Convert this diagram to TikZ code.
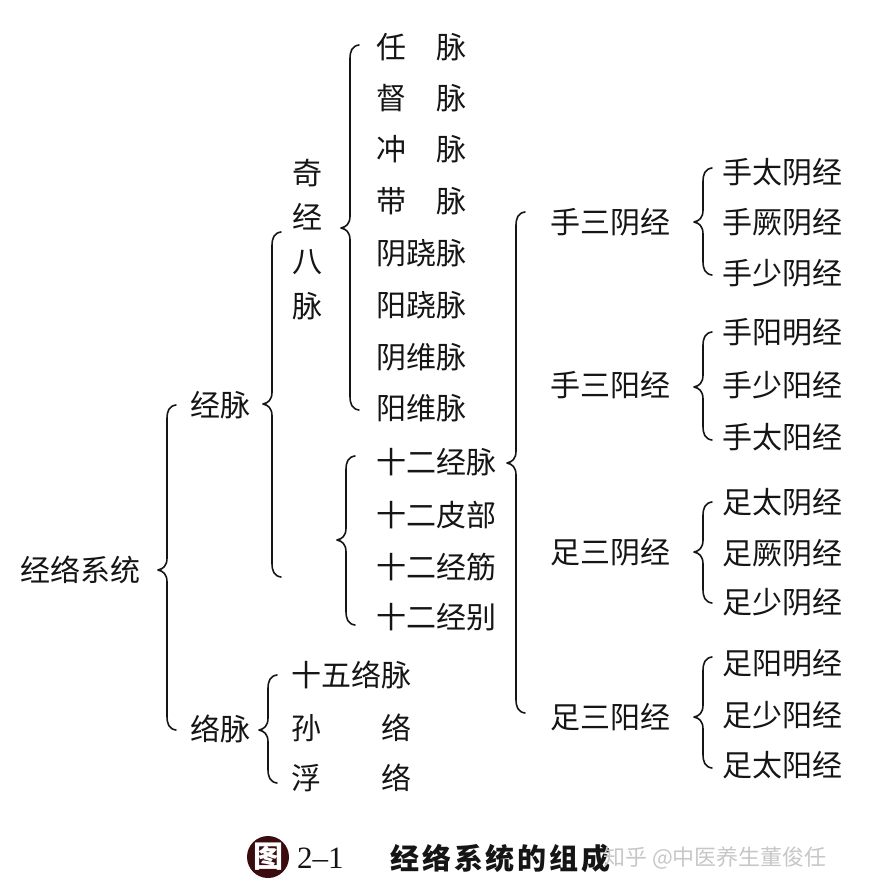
\documentclass[tikz,border=0pt]{standalone}
\usepackage{fontspec}
\newfontfamily\cjk{Noto Sans CJK SC}
\newfontfamily\capcjk[LetterSpace=10]{Noto Sans CJK SC}
\newfontfamily\capser{Liberation Serif}
\definecolor{ink}{HTML}{151515}
\definecolor{maroon}{HTML}{3A0C10}
\newcommand\curlybr[4]{%
 \draw[brc] ({#1+9},{#2}) .. controls ({#1+2},{#2+1}) and ({#1},{#2+6}) .. ({#1},{#2+14})
  -- ({#1},{#3-12}) .. controls ({#1},{#3-4}) and ({#1-4},{#3-1}) .. ({#1-9},{#3})
  .. controls ({#1-4},{#3+1}) and ({#1},{#3+4}) .. ({#1},{#3+12})
  -- ({#1},{#4-14}) .. controls ({#1},{#4-6}) and ({#1+2},{#4-1}) .. ({#1+9},{#4});}
\begin{document}
\begin{tikzpicture}[x=1pt,y=-1pt,
  lbl/.style={anchor=west, inner sep=0pt, font=\cjk\fontsize{30}{32}\selectfont, text=ink},
  vch/.style={lbl, anchor=center},
  brc/.style={draw=ink, line width=1.6pt, line cap=round, line join=round}]
\useasboundingbox (0,0) rectangle (886,895);
\fill[white] (0,0) rectangle (886,895);

% level 0-1
\node[lbl] (root) at (20,570) {经络系统};
\node[lbl] (jm) at (190,405) {经脉};
\node[lbl] (lm) at (190,729) {络脉};

% 奇经八脉
\node[vch] (q1) at (307,173) {奇};
\node[vch] (q2) at (307,217) {经};
\node[vch] (q3) at (307,262) {八};
\node[vch] (q4) at (307,306) {脉};

% eight extraordinary vessels
\node[lbl] (r1) at (376,47)  {任\hspace{1em}脉};
\node[lbl] (r2) at (376,98)  {督\hspace{1em}脉};
\node[lbl] (r3) at (376,149) {冲\hspace{1em}脉};
\node[lbl] (r4) at (376,201) {带\hspace{1em}脉};
\node[lbl] (r5) at (376,253) {阴跷脉};
\node[lbl] (r6) at (376,305) {阳跷脉};
\node[lbl] (r7) at (376,357) {阴维脉};
\node[lbl] (r8) at (376,408) {阳维脉};

% twelve
\node[lbl] (s1) at (376,462) {十二经脉};
\node[lbl] (s2) at (376,515) {十二皮部};
\node[lbl] (s3) at (376,567) {十二经筋};
\node[lbl] (s4) at (376,617) {十二经别};

% collaterals
\node[lbl] (l1) at (291,675) {十五络脉};
\node[lbl] (l2) at (291,728) {孙\hspace{2em}络};
\node[lbl] (l3) at (291,778) {浮\hspace{2em}络};

% middle
\node[lbl] (m1) at (550,222) {手三阴经};
\node[lbl] (m2) at (550,385) {手三阳经};
\node[lbl] (m3) at (550,552) {足三阴经};
\node[lbl] (m4) at (550,717) {足三阳经};

% leaves
\node[lbl] (a1)  at (722,172) {手太阴经};
\node[lbl] (a2)  at (722,222) {手厥阴经};
\node[lbl] (a3)  at (722,273) {手少阴经};
\node[lbl] (a4)  at (722,332) {手阳明经};
\node[lbl] (a5)  at (722,385) {手少阳经};
\node[lbl] (a6)  at (722,437) {手太阳经};
\node[lbl] (a7)  at (722,502) {足太阴经};
\node[lbl] (a8)  at (722,553) {足厥阴经};
\node[lbl] (a9)  at (722,602) {足少阴经};
\node[lbl] (a10) at (722,663) {足阳明经};
\node[lbl] (a11) at (722,715) {足少阳经};
\node[lbl] (a12) at (722,765) {足太阳经};

% braces
\curlybr{167}{405}{570}{730}
\curlybr{272}{232}{404}{577}
\curlybr{350}{45}{228}{410}
\curlybr{346}{456}{540}{625}
\curlybr{516}{212}{463}{713}
\curlybr{703}{168}{222}{275}
\curlybr{703}{332}{387}{440}
\curlybr{703}{502}{552}{603}
\curlybr{703}{657}{717}{768}
\curlybr{268}{675}{730}{783}

% caption
\node[circle, fill=maroon, minimum size=42pt, inner sep=0pt,
      font=\cjk\bfseries\fontsize{30}{30}\selectfont, text=white] (fig) at (268,857) {图};
\node[anchor=west, inner sep=0pt, font=\capser\fontsize{31}{32}\selectfont, text=ink] (num) at (297,858) {2–1};
\node[anchor=west, inner sep=0pt, font=\capcjk\bfseries\fontsize{29}{30}\selectfont, text=ink] (cap) at (390,858) {经络系统的组成};
\node[anchor=west, inner sep=0pt, font=\cjk\fontsize{22}{24}\selectfont, text=black!22] (wm) at (603,858) {知乎 @中医养生董俊任};
\end{tikzpicture}
\end{document}
